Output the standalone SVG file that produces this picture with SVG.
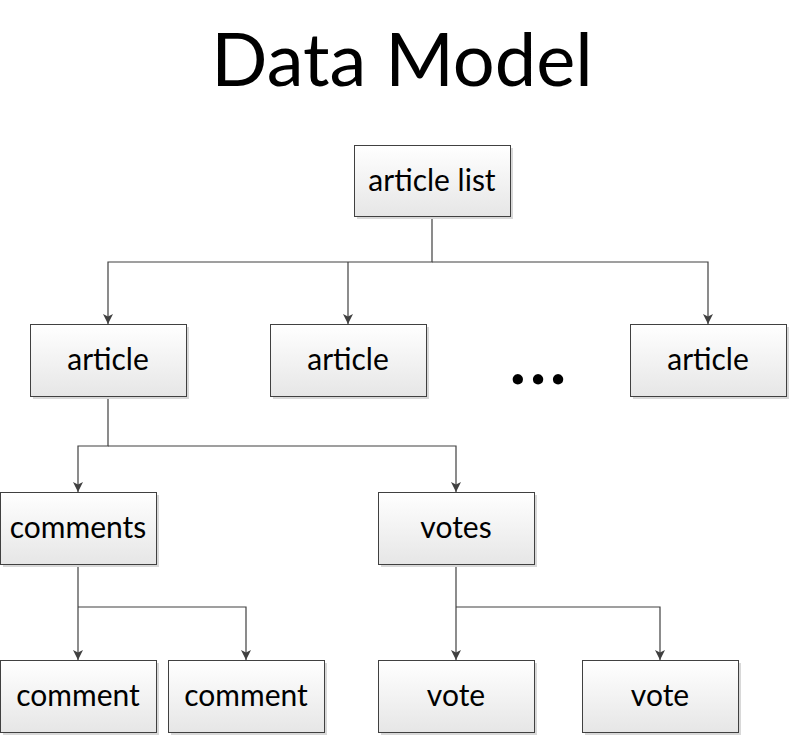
<svg xmlns="http://www.w3.org/2000/svg" width="789" height="735" viewBox="0 0 789 735">
<style>
.box{fill:url(#g);stroke:#404040;stroke-width:1}
.sh{fill:#d8d8d8}
.lbl{font-family:Lato,"Open Sans","Liberation Sans",sans-serif;font-size:30px;fill:#000;text-anchor:middle}
.title{font-family:Lato,"Open Sans","Liberation Sans",sans-serif;font-size:74px;fill:#000;text-anchor:middle}
.c{fill:none;stroke:#404040;stroke-width:1.2}
</style>
<defs>
<linearGradient id="g" x1="0" y1="0" x2="0" y2="1">
<stop offset="0" stop-color="#ffffff"/>
<stop offset="1" stop-color="#e6e6e6"/>
</linearGradient>
<marker id="ar" viewBox="0 0 10 10" refX="10" refY="5" markerWidth="10" markerHeight="10" markerUnits="userSpaceOnUse" orient="auto">
<path d="M0,0 L10,5 L0,10 L2.5,5 Z" fill="#404040"/>
</marker>
</defs>
<rect width="789" height="735" fill="#fff"/>
<text class="title" x="402" y="86">Data Model</text>
<g id="connectors">
<path class="c" d="M432,216 V262 H108 V324" marker-end="url(#ar)"/>
<path class="c" d="M348,262 V324" marker-end="url(#ar)"/>
<path class="c" d="M432,262 H708 V324" marker-end="url(#ar)"/>
<path class="c" d="M108,396 V446 H78 V492" marker-end="url(#ar)"/>
<path class="c" d="M108,446 H456 V492" marker-end="url(#ar)"/>
<path class="c" d="M78,564 V660" marker-end="url(#ar)"/>
<path class="c" d="M78,607 H246 V660" marker-end="url(#ar)"/>
<path class="c" d="M456,564 V660" marker-end="url(#ar)"/>
<path class="c" d="M456,607 H660 V660" marker-end="url(#ar)"/>
</g>
<g id="article-list"><rect class="sh" x="357" y="148" width="156" height="71"/><rect class="box" x="354.5" y="145.5" width="156" height="71"/><text class="lbl" x="432" y="191">article list</text></g>
<g id="article1"><rect class="sh" x="33" y="327" width="156" height="72"/><rect class="box" x="30.5" y="324.5" width="156" height="72"/><text class="lbl" x="108" y="370">article</text></g>
<g id="article2"><rect class="sh" x="273" y="327" width="156" height="72"/><rect class="box" x="270.5" y="324.5" width="156" height="72"/><text class="lbl" x="348" y="370">article</text></g>
<g id="ellipsis"><text x="540" y="384" font-family="Lato,'Liberation Sans',sans-serif" font-size="68" font-weight="bold" text-anchor="middle" letter-spacing="4">...</text></g>
<g id="article3"><rect class="sh" x="633" y="327" width="156" height="72"/><rect class="box" x="630.5" y="324.5" width="156" height="72"/><text class="lbl" x="708" y="370">article</text></g>
<g id="comments"><rect class="sh" x="3" y="495" width="156" height="72"/><rect class="box" x="0.5" y="492.5" width="156" height="72"/><text class="lbl" x="78" y="538">comments</text></g>
<g id="votes"><rect class="sh" x="381" y="495" width="156" height="72"/><rect class="box" x="378.5" y="492.5" width="156" height="72"/><text class="lbl" x="456" y="538">votes</text></g>
<g id="comment1"><rect class="sh" x="3" y="663" width="156" height="72"/><rect class="box" x="0.5" y="660.5" width="156" height="72"/><text class="lbl" x="78" y="706">comment</text></g>
<g id="comment2"><rect class="sh" x="171" y="663" width="156" height="72"/><rect class="box" x="168.5" y="660.5" width="156" height="72"/><text class="lbl" x="246" y="706">comment</text></g>
<g id="vote1"><rect class="sh" x="381" y="663" width="156" height="72"/><rect class="box" x="378.5" y="660.5" width="156" height="72"/><text class="lbl" x="456" y="706">vote</text></g>
<g id="vote2"><rect class="sh" x="585" y="663" width="156" height="72"/><rect class="box" x="582.5" y="660.5" width="156" height="72"/><text class="lbl" x="660" y="706">vote</text></g>
</svg>
